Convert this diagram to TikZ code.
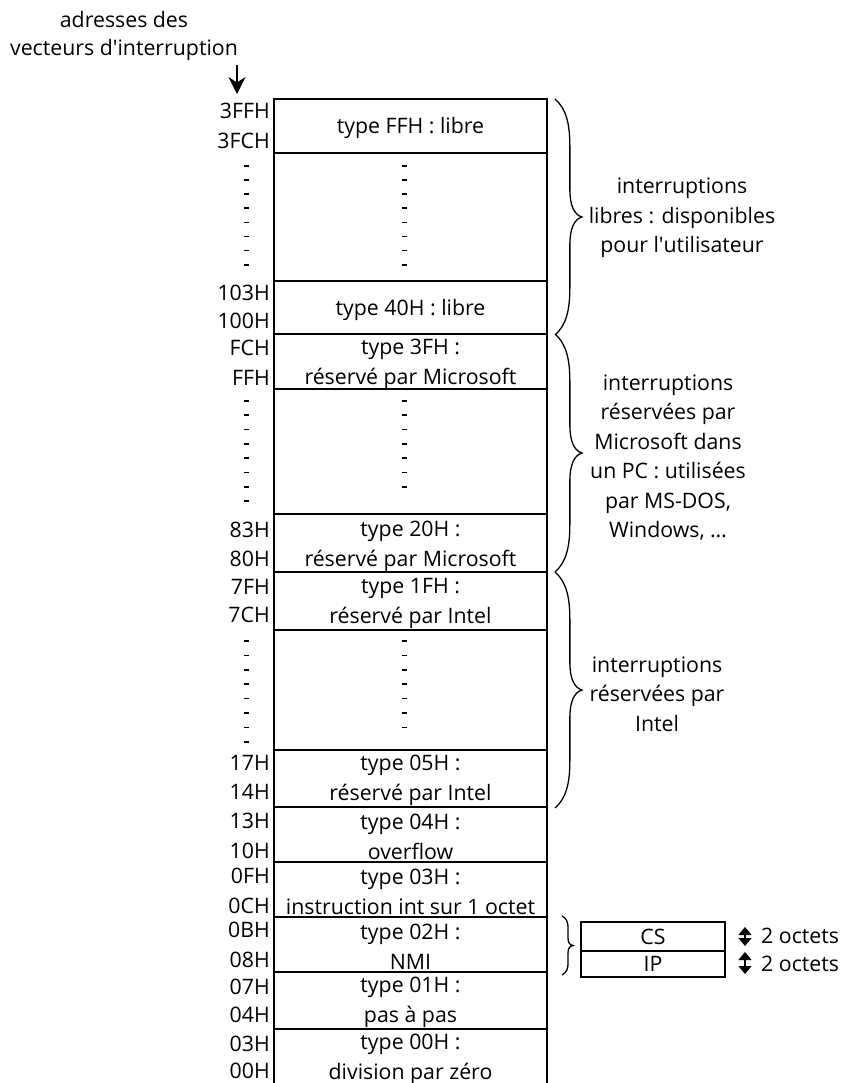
\documentclass[tikz,border=0pt]{standalone}
\usepackage{fontspec}
\setmainfont{Open Sans}
\usetikzlibrary{arrows.meta}
\newcommand\curlybr[4]{%
  \begin{scope}[shift={(#1,#2)},xscale=#4,yscale={#3-#2}]
    \draw[bracestyle] (0,0) .. controls (0.4,0.04) and (0.55,0.1) .. (0.55,0.2)
      -- (0.55,0.38) .. controls (0.55,0.45) and (0.7,0.49) .. (1,0.5)
      .. controls (0.7,0.51) and (0.55,0.55) .. (0.55,0.62)
      -- (0.55,0.8) .. controls (0.55,0.9) and (0.4,0.96) .. (0,1);
  \end{scope}}
\newcommand\dashcol[4]{% x, first y, step, count
  \foreach \k in {1,...,#4}{\draw[dashmark] ({#1-2.5},{#2+(\k-1)*#3}) -- ({#1+2.5},{#2+(\k-1)*#3});}}
\begin{document}
\begin{tikzpicture}[x=1pt,y=-1pt,
  cell/.style={draw,line width=1.8pt,outer sep=0pt,minimum width=273pt,inner sep=0pt,anchor=north},
  celltext/.style={align=center,inner sep=0pt,font=\fontsize{21.3}{30}\selectfont},
  addr/.style={anchor=east,inner sep=0pt,font=\fontsize{21.3}{24}\selectfont},
  note/.style={align=center,inner sep=0pt,font=\fontsize{21.3}{29.5}\selectfont},
  bracestyle/.style={line width=1.3pt},
  dashmark/.style={line width=1.7pt},
  small/.style={draw,line width=1.4pt,outer sep=0pt,minimum width=144pt,inner sep=0pt,font=\fontsize{21.3}{24}\selectfont},
  octet/.style={anchor=west,inner sep=0pt,font=\fontsize{21.3}{24}\selectfont},
  dbl/.style={{Triangle[width=13pt,length=8pt]}-{Triangle[width=13pt,length=8pt]},line width=1.2pt}]
\useasboundingbox (0,0) rectangle (842,1083);

% title and arrow
\node[note,font=\fontsize{21.3}{28.5}\selectfont] (title) at (124,36) {adresses des\\vecteurs d\textquotesingle interruption};
\coordinate (arrS) at (237,65);
\coordinate (arrE) at (237,94);
\draw[line width=1.5pt,-{Stealth[length=17pt,width=17pt]}] (arrS) -- (arrE);

% column of cells
\node[cell,minimum height=54pt] (c1) at (410.5,99) {};
\node[cell,minimum height=128pt] (d1) at (410.5,153) {};
\node[cell,minimum height=53pt] (c2) at (410.5,281) {};
\node[cell,minimum height=55pt] (c3) at (410.5,334) {};
\node[cell,minimum height=125pt] (d2) at (410.5,389) {};
\node[cell,minimum height=58pt] (c4) at (410.5,514) {};
\node[cell,minimum height=58pt] (c5) at (410.5,572) {};
\node[cell,minimum height=120pt] (d3) at (410.5,630) {};
\node[cell,minimum height=57pt] (c6) at (410.5,750) {};
\node[cell,minimum height=55pt] (c7) at (410.5,807) {};
\node[cell,minimum height=55pt] (c8) at (410.5,862) {};
\node[cell,minimum height=55pt] (c9) at (410.5,917) {};
\node[cell,minimum height=57pt] (c10) at (410.5,972) {};
\node[cell,draw=none,minimum height=57pt] (c11) at (410.5,1029) {};
\draw[line width=1.8pt] (c11.south west) -- (c11.north west) -- (c11.north east) -- (c11.south east);

% cell texts
\node[celltext] (t1) at ([yshift=-2pt]c1.center) {type FFH : libre};
\node[celltext] (t2) at ([yshift=-2pt]c2.center) {type 40H : libre};
\node[celltext] (t3) at ([yshift=-3pt]c3.center) {type 3FH :\\réservé par Microsoft};
\node[celltext] (t4) at ([yshift=-3pt]c4.center) {type 20H :\\réservé par Microsoft};
\node[celltext] (t5) at ([yshift=-2.5pt]c5.center) {type 1FH :\\réservé par Intel};
\node[celltext] (t6) at ([yshift=-2pt]c6.center) {type 05H :\\réservé par Intel};
\node[celltext] (t7) at ([yshift=-2pt]c7.center) {type 04H :\\overflow};
\node[celltext] (t8) at ([yshift=-2pt]c8.center) {type 03H :\\instruction int sur 1 octet};
\node[celltext] (t9) at ([yshift=-2pt]c9.center) {type 02H :\\NMI};
\node[celltext] (t10) at ([yshift=-2pt]c10.center) {type 01H :\\pas à pas};
\node[celltext] (t11) at ([yshift=-2pt]c11.center) {type 00H :\\division par zéro};

% dashes in the gaps
\dashcol{246}{166}{14.1}{8}
\dashcol{404}{166}{14.1}{8}
\dashcol{246}{401}{14.3}{8}
\dashcol{404}{401}{14.3}{7}
\dashcol{246}{641}{14.4}{8}
\dashcol{404}{641}{14.4}{7}

% addresses
\node[addr] (a1) at (270,111) {3FFH};
\node[addr] (a2) at (270,141) {3FCH};
\node[addr] (a3) at (270,293) {103H};
\node[addr] (a4) at (270,321) {100H};
\node[addr] (a5) at (270,348) {FCH};
\node[addr] (a6) at (270,378) {FFH};
\node[addr] (a7) at (270,530) {83H};
\node[addr] (a8) at (270,559) {80H};
\node[addr] (a9) at (270,587) {7FH};
\node[addr] (a10) at (270,615) {7CH};
\node[addr] (a11) at (270,763) {17H};
\node[addr] (a12) at (270,792) {14H};
\node[addr] (a13) at (270,821) {13H};
\node[addr] (a14) at (270,851) {10H};
\node[addr] (a15) at (270,876) {0FH};
\node[addr] (a16) at (270,906) {0CH};
\node[addr] (a17) at (270,930) {0BH};
\node[addr] (a18) at (270,960) {08H};
\node[addr] (a19) at (270,987) {07H};
\node[addr] (a20) at (270,1015) {04H};
\node[addr] (a21) at (270,1044) {03H};
\node[addr] (a22) at (270,1071) {00H};

% braces and notes
\curlybr{555}{99}{335}{27}
\curlybr{555}{334}{572}{27}
\curlybr{555}{572}{808}{27}
\curlybr{562}{916}{975}{11}
\node[note] (n1) at (682,218) {interruptions\\libres : disponibles\\pour l\textquotesingle utilisateur};
\node[note] (n2) at (668,457.5) {interruptions\\réservées par\\Microsoft dans\\un PC : utilisées\\par MS-DOS,\\Windows, \dots};
\node[note] (n3) at (657,694) {interruptions\\réservées par\\Intel};

% CS / IP
\node[small,minimum height=29pt] (cs) at (653,936.5) {CS};
\node[small,minimum height=26pt] (ip) at (653,964) {IP};
\coordinate (csT) at (745,927);
\coordinate (csB) at (745,946);
\coordinate (ipT) at (745,952);
\coordinate (ipB) at (745,974);
\draw[dbl] (csT) -- (csB);
\draw[dbl] (ipT) -- (ipB);
\node[octet] (o1) at (761,936) {2 octets};
\node[octet] (o2) at (761,964) {2 octets};
\end{tikzpicture}
\end{document}
